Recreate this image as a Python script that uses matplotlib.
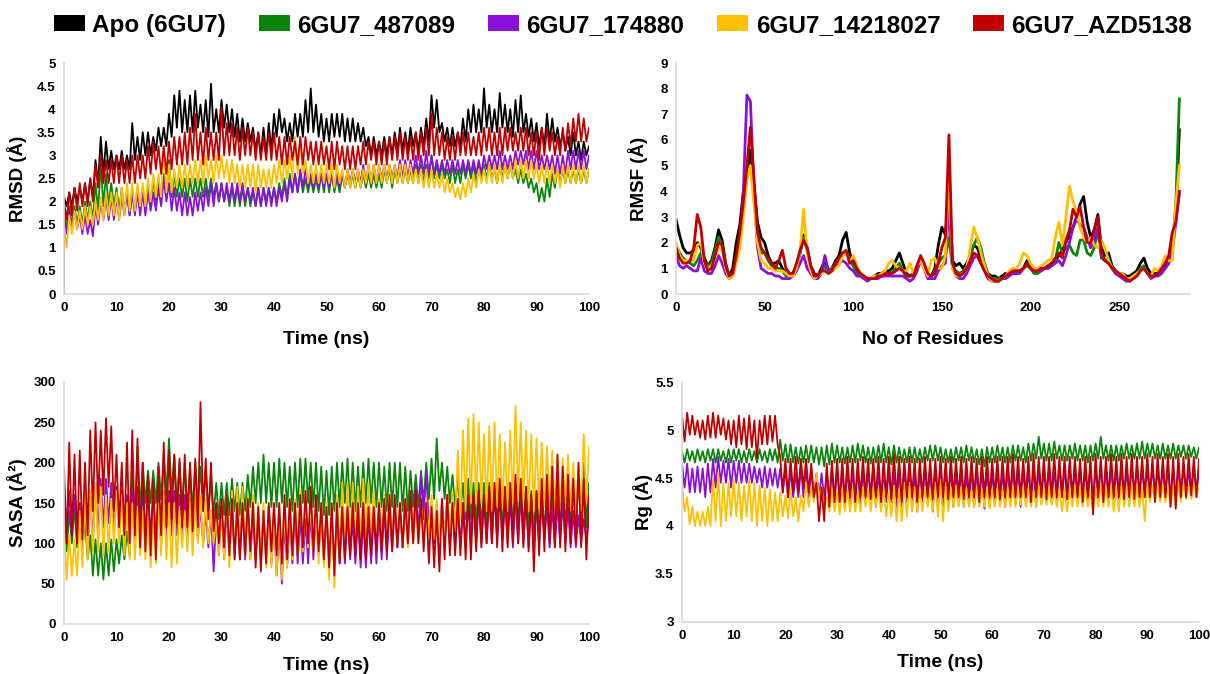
import numpy as np
import matplotlib
matplotlib.use("Agg")
import matplotlib.pyplot as plt
from matplotlib.patches import Patch
from matplotlib.ticker import FuncFormatter

plt.rcParams['font.family'] = ['Liberation Sans', 'DejaVu Sans']
plt.rcParams['font.weight'] = 'bold'

series_names = ["Apo (6GU7)", "6GU7_487089", "6GU7_174880", "6GU7_14218027", "6GU7_AZD5138"]
colors = ["#000000", "#0a850a", "#8a10d8", "#ffc000", "#c00000"]

# Time series are read off the picture as the upper / lower extent of the
# trace in every 1-ns window (0 ... 100 ns).

# ---------------- RMSD (A) ----------------
rmsd_apo_hi = [2.1, 2.2, 2.3, 2.3, 2.4, 2.5, 2.9, 3.4, 3.3, 3.1, 3.0, 3.1, 3.0, 3.7, 3.4, 3.5, 3.5, 3.4, 3.6, 3.6,
               3.9, 4.3, 4.4, 4.2, 4.3, 4.4, 4.1, 4.2, 4.55, 4.0, 4.2, 4.1, 4.0, 3.9, 3.8, 3.7, 3.6, 3.5, 3.6, 3.7,
               3.9, 4.0, 3.8, 3.7, 3.9, 3.9, 4.2, 4.45, 4.1, 3.9, 3.8, 3.9, 3.9, 3.9, 3.8, 3.8, 3.7, 3.6, 3.4, 3.4,
               3.3, 3.4, 3.4, 3.5, 3.6, 3.5, 3.6, 3.5, 3.6, 3.8, 4.3, 4.2, 3.7, 3.6, 3.6, 3.5, 3.8, 4.0, 4.1, 4.0,
               4.45, 4.1, 4.0, 4.35, 4.1, 4.0, 4.2, 4.3, 3.9, 3.8, 3.7, 3.6, 3.9, 3.8, 3.6, 3.5, 3.4, 3.5, 3.3, 3.3, 3.2]
rmsd_apo_lo = [1.9, 1.9, 2.0, 2.0, 2.0, 2.1, 2.4, 2.6, 2.7, 2.7, 2.7, 2.7, 2.7, 2.9, 2.9, 3.0, 3.0, 3.1, 3.2, 3.2,
               3.4, 3.6, 3.5, 3.5, 3.5, 3.6, 3.5, 3.4, 3.5, 3.5, 3.6, 3.5, 3.4, 3.3, 3.3, 3.3, 3.1, 3.0, 3.0, 3.1,
               3.4, 3.5, 3.3, 3.3, 3.4, 3.4, 3.5, 3.5, 3.4, 3.3, 3.3, 3.4, 3.4, 3.3, 3.3, 3.3, 3.3, 3.2, 3.0, 3.0,
               3.0, 3.0, 3.0, 3.1, 3.1, 3.1, 3.2, 3.1, 3.2, 3.3, 3.6, 3.5, 3.3, 3.2, 3.2, 3.2, 3.3, 3.5, 3.5, 3.5,
               3.6, 3.5, 3.5, 3.6, 3.5, 3.4, 3.5, 3.5, 3.4, 3.3, 3.2, 3.2, 3.3, 3.3, 3.2, 3.1, 3.0, 3.0, 2.9, 3.0, 3.0]
rmsd_487089_hi = [1.8, 1.9, 1.9, 1.9, 2.0, 2.0, 2.4, 2.8, 2.6, 2.4, 2.3, 2.3, 2.2, 2.2, 2.3, 2.3, 2.4, 2.5, 2.5, 2.6,
                  2.9, 2.6, 2.5, 2.5, 2.5, 2.5, 2.5, 2.5, 2.5, 2.4, 2.4, 2.3, 2.3, 2.3, 2.3, 2.3, 2.2, 2.3, 2.3, 2.3,
                  2.3, 2.4, 2.5, 2.6, 2.6, 2.6, 2.5, 2.5, 2.5, 2.6, 2.6, 2.6, 2.5, 2.6, 2.6, 2.6, 2.6, 2.6, 2.6, 2.6,
                  2.6, 2.7, 2.7, 2.7, 2.7, 2.7, 2.7, 2.8, 2.8, 2.8, 3.0, 2.8, 2.8, 2.7, 2.8, 2.7, 2.8, 2.8, 2.8, 2.8,
                  2.8, 2.8, 2.7, 2.8, 2.8, 2.8, 2.7, 2.7, 2.6, 2.5, 2.4, 2.3, 2.5, 2.6, 2.7, 2.7, 2.7, 2.7, 2.7, 2.7, 2.7]
rmsd_487089_lo = [1.4, 1.5, 1.5, 1.5, 1.6, 1.6, 1.8, 1.9, 1.9, 1.9, 1.8, 1.8, 1.7, 1.8, 1.8, 1.8, 1.9, 2.0, 2.0, 2.1,
                  2.1, 2.1, 2.1, 2.0, 2.1, 2.1, 2.1, 2.1, 2.1, 2.0, 2.0, 1.9, 1.9, 1.9, 1.9, 1.9, 1.9, 1.9, 2.0, 2.0,
                  2.0, 2.1, 2.1, 2.2, 2.2, 2.2, 2.2, 2.2, 2.2, 2.2, 2.2, 2.2, 2.2, 2.3, 2.3, 2.3, 2.3, 2.3, 2.3, 2.3,
                  2.3, 2.4, 2.3, 2.4, 2.4, 2.4, 2.4, 2.4, 2.4, 2.5, 2.5, 2.5, 2.5, 2.4, 2.4, 2.4, 2.5, 2.5, 2.4, 2.5,
                  2.5, 2.5, 2.4, 2.5, 2.5, 2.5, 2.4, 2.4, 2.3, 2.2, 2.0, 2.0, 2.1, 2.3, 2.4, 2.4, 2.4, 2.4, 2.4, 2.4, 2.5]
rmsd_174880_hi = [1.7, 1.8, 1.8, 1.7, 1.7, 1.6, 1.9, 2.0, 2.1, 2.1, 2.1, 2.1, 2.2, 2.2, 2.2, 2.2, 2.2, 2.2, 2.3, 2.5,
                  2.4, 2.3, 2.2, 2.2, 2.1, 2.2, 2.2, 2.3, 2.4, 2.4, 2.4, 2.4, 2.4, 2.4, 2.4, 2.3, 2.3, 2.3, 2.3, 2.3,
                  2.3, 2.3, 2.4, 2.5, 2.6, 2.7, 2.7, 2.6, 2.6, 2.6, 2.6, 2.6, 2.6, 2.6, 2.7, 2.7, 2.7, 2.8, 2.8, 2.8,
                  2.8, 2.8, 2.8, 2.8, 2.9, 2.9, 2.9, 3.0, 3.0, 3.1, 3.0, 2.9, 2.9, 2.9, 2.9, 2.9, 2.9, 2.9, 2.9, 2.9,
                  3.0, 3.0, 3.0, 3.1, 3.0, 3.0, 3.1, 3.1, 3.1, 3.1, 3.1, 3.0, 3.0, 3.0, 3.0, 3.0, 3.1, 3.1, 3.1, 3.1, 3.0]
rmsd_174880_lo = [1.3, 1.4, 1.4, 1.3, 1.3, 1.25, 1.5, 1.6, 1.6, 1.6, 1.6, 1.7, 1.7, 1.7, 1.7, 1.7, 1.8, 1.8, 1.9, 2.0,
                  1.8, 1.8, 1.7, 1.7, 1.7, 1.8, 1.8, 1.9, 1.9, 2.0, 2.0, 2.0, 2.0, 2.0, 2.0, 2.0, 1.9, 1.9, 1.9, 1.9,
                  1.9, 2.0, 2.0, 2.2, 2.2, 2.3, 2.3, 2.3, 2.3, 2.3, 2.3, 2.3, 2.3, 2.3, 2.4, 2.4, 2.4, 2.4, 2.4, 2.4,
                  2.5, 2.5, 2.5, 2.5, 2.5, 2.5, 2.6, 2.6, 2.6, 2.6, 2.6, 2.6, 2.6, 2.6, 2.6, 2.6, 2.6, 2.6, 2.6, 2.6,
                  2.7, 2.7, 2.7, 2.7, 2.7, 2.7, 2.8, 2.8, 2.7, 2.7, 2.7, 2.7, 2.7, 2.6, 2.6, 2.6, 2.7, 2.7, 2.7, 2.7, 2.7]
rmsd_14218027_hi = [1.5, 1.7, 1.8, 1.8, 1.9, 1.9, 2.0, 2.1, 2.2, 2.2, 2.2, 2.3, 2.4, 2.4, 2.4, 2.4, 2.5, 2.6, 2.6, 3.2,
                    2.8, 2.7, 2.8, 2.8, 2.8, 2.9, 2.9, 3.0, 2.9, 3.0, 3.0, 2.9, 2.9, 2.8, 2.8, 2.8, 2.8, 2.8, 2.7, 2.7,
                    2.8, 2.9, 2.9, 3.0, 3.4, 3.3, 2.9, 2.8, 2.8, 2.8, 2.8, 2.8, 2.8, 2.7, 2.7, 2.7, 2.7, 2.7, 2.8, 2.8,
                    2.8, 2.8, 2.8, 2.8, 2.8, 2.8, 2.8, 2.7, 2.7, 2.7, 2.7, 2.6, 2.6, 2.5, 2.4, 2.3, 2.4, 2.5, 2.6, 2.7,
                    2.7, 2.8, 2.8, 2.8, 2.8, 2.8, 2.9, 2.9, 2.9, 2.9, 2.8, 2.8, 2.8, 2.8, 2.7, 2.8, 2.8, 2.8, 2.8, 2.8, 2.7]
rmsd_14218027_lo = [1.0, 1.3, 1.4, 1.4, 1.5, 1.5, 1.6, 1.6, 1.7, 1.7, 1.6, 1.7, 1.8, 1.8, 1.9, 1.9, 2.0, 2.1, 2.1, 2.2,
                    2.2, 2.3, 2.3, 2.3, 2.4, 2.4, 2.4, 2.5, 2.4, 2.5, 2.5, 2.4, 2.4, 2.3, 2.3, 2.3, 2.2, 2.3, 2.3, 2.3,
                    2.4, 2.4, 2.5, 2.5, 2.6, 2.6, 2.4, 2.4, 2.4, 2.4, 2.4, 2.3, 2.4, 2.3, 2.3, 2.3, 2.3, 2.4, 2.4, 2.4,
                    2.4, 2.4, 2.4, 2.4, 2.4, 2.4, 2.4, 2.4, 2.3, 2.3, 2.3, 2.3, 2.2, 2.2, 2.1, 2.05, 2.1, 2.2, 2.3, 2.4,
                    2.4, 2.4, 2.4, 2.4, 2.5, 2.5, 2.5, 2.5, 2.5, 2.5, 2.4, 2.4, 2.4, 2.4, 2.3, 2.4, 2.4, 2.4, 2.4, 2.4, 2.5]
rmsd_azd5138_hi = [2.0, 2.2, 2.3, 2.4, 2.4, 2.5, 2.8, 3.0, 2.9, 2.9, 3.0, 3.0, 2.9, 3.0, 3.0, 3.0, 3.2, 3.3, 3.2, 3.2,
                   3.3, 3.4, 3.4, 3.5, 3.6, 3.9, 3.5, 3.6, 3.5, 3.5, 4.05, 3.7, 3.7, 3.6, 3.6, 3.6, 3.5, 3.5, 3.4, 3.5,
                   3.5, 3.4, 3.4, 3.4, 3.3, 3.4, 3.4, 3.3, 3.3, 3.3, 3.2, 3.3, 3.3, 3.2, 3.2, 3.2, 3.2, 3.3, 3.3, 3.3,
                   3.3, 3.3, 3.4, 3.4, 3.5, 3.4, 3.4, 3.5, 3.5, 3.6, 3.9, 3.6, 3.5, 3.4, 3.4, 3.5, 3.5, 3.5, 3.4, 3.5,
                   3.6, 3.6, 3.5, 3.6, 3.6, 3.6, 3.5, 3.6, 3.6, 3.5, 3.5, 3.6, 3.6, 3.5, 3.4, 3.6, 3.7, 3.8, 3.9, 3.8, 3.6]
rmsd_azd5138_lo = [1.6, 1.7, 1.8, 1.9, 1.9, 2.0, 2.3, 2.4, 2.4, 2.4, 2.4, 2.4, 2.4, 2.4, 2.5, 2.5, 2.6, 2.7, 2.6, 2.6,
                   2.7, 2.8, 2.8, 2.8, 2.9, 2.9, 2.8, 2.9, 2.9, 2.9, 3.0, 3.0, 3.0, 2.9, 3.0, 3.0, 2.9, 2.9, 2.9, 2.9,
                   2.9, 2.8, 2.8, 2.9, 2.8, 2.8, 2.9, 2.8, 2.8, 2.8, 2.7, 2.7, 2.8, 2.7, 2.7, 2.7, 2.8, 2.8, 2.9, 2.8,
                   2.8, 2.8, 2.9, 2.9, 2.9, 2.9, 2.9, 2.9, 3.0, 3.0, 3.0, 3.0, 2.9, 2.9, 2.9, 3.0, 3.0, 3.0, 3.0, 3.0,
                   3.1, 3.0, 3.0, 3.0, 3.1, 3.1, 3.1, 3.1, 3.0, 3.0, 2.9, 3.0, 3.1, 3.0, 3.0, 3.1, 3.2, 3.3, 3.3, 3.3, 3.3]
rmsd_start_value = 0.0  # first frame (only visible for the top-drawn series)

# ---------------- RMSF (A) vs residue, every 2nd residue from 0 ----------------
rmsf_apo = [2.9, 2.3, 1.8, 1.6, 1.6, 1.7, 2.0, 1.8, 1.4, 1.1, 1.3, 1.8, 2.5, 2.1, 1.2, 0.7, 1.0, 2.0, 2.7, 4.0,
            4.6, 5.6, 4.2, 2.8, 2.2, 2.0, 1.5, 1.2, 1.2, 1.3, 1.0, 0.8, 0.7, 0.8, 1.1, 1.6, 2.3, 1.8, 1.1, 0.8,
            0.7, 1.0, 1.3, 0.9, 1.0, 1.3, 1.5, 2.1, 2.4, 1.6, 1.2, 0.9, 0.8, 0.7, 0.6, 0.6, 0.7, 0.8, 0.8, 0.9,
            0.9, 1.0, 1.3, 1.6, 1.2, 0.8, 0.7, 0.8, 1.1, 1.4, 1.1, 0.7, 0.7, 1.0, 1.9, 2.6, 2.3, 4.0, 1.3, 1.1,
            1.2, 1.0, 1.2, 1.5, 1.9, 1.8, 1.4, 1.0, 0.8, 0.7, 0.7, 0.6, 0.7, 0.8, 0.8, 0.9, 0.9, 0.9, 1.0, 1.3,
            1.1, 1.0, 0.9, 1.0, 1.0, 1.1, 1.2, 1.3, 1.5, 1.7, 2.0, 2.3, 2.6, 3.0, 3.5, 3.8, 2.8, 2.2, 2.5, 3.1,
            1.8, 1.5, 1.6, 1.1, 0.9, 0.8, 0.8, 0.7, 0.7, 0.8, 0.9, 1.2, 1.4, 1.0, 0.8, 0.8, 0.8, 1.0, 1.1, 1.3,
            2.0, 3.0, 6.4]
rmsf_487089 = [1.9, 1.6, 1.4, 1.3, 1.2, 1.1, 1.3, 1.6, 1.3, 1.1, 1.2, 1.7, 2.2, 1.9, 1.1, 0.7, 0.8, 1.3, 2.0, 3.2,
               4.5, 5.0, 3.8, 2.4, 1.6, 1.6, 1.3, 1.1, 1.0, 1.0, 0.9, 0.7, 0.7, 0.8, 1.1, 1.6, 2.2, 1.7, 1.0, 0.7,
               0.7, 0.9, 1.1, 0.8, 1.0, 1.2, 1.3, 1.6, 1.6, 1.3, 1.1, 0.8, 0.7, 0.6, 0.6, 0.6, 0.7, 0.7, 0.7, 0.8,
               0.8, 0.9, 1.0, 1.2, 0.9, 0.7, 0.7, 0.8, 1.1, 1.4, 1.0, 0.7, 0.7, 0.9, 1.2, 1.4, 1.5, 2.2, 1.0, 0.9,
               0.8, 0.9, 1.1, 1.5, 1.9, 2.2, 1.8, 1.2, 0.8, 0.6, 0.6, 0.6, 0.6, 0.7, 0.8, 0.8, 0.8, 0.9, 1.0, 1.1,
               1.0, 0.8, 0.8, 0.9, 1.0, 1.0, 1.1, 1.3, 2.0, 1.6, 1.8, 1.9, 1.6, 1.5, 2.1, 2.1, 1.6, 1.5, 1.8, 2.5,
               1.4, 1.3, 1.4, 1.0, 0.8, 0.8, 0.7, 0.6, 0.6, 0.7, 0.8, 1.0, 1.1, 0.8, 0.7, 0.7, 0.8, 0.9, 1.0, 1.2,
               1.8, 3.5, 7.6]
rmsf_174880 = [1.5, 1.1, 1.0, 1.1, 1.0, 0.9, 0.9, 1.4, 0.9, 0.8, 0.8, 1.1, 1.5, 1.2, 0.8, 0.6, 0.7, 1.3, 2.0, 4.0,
               7.75, 7.5, 4.0, 1.8, 1.0, 0.9, 0.8, 0.8, 0.7, 0.7, 0.6, 0.6, 0.6, 0.7, 0.9, 1.2, 1.5, 1.0, 0.8, 0.6,
               0.6, 0.8, 1.5, 0.9, 0.9, 1.1, 1.2, 1.3, 1.2, 1.0, 0.9, 0.7, 0.7, 0.6, 0.5, 0.6, 0.6, 0.6, 0.7, 0.7,
               0.7, 0.7, 0.7, 0.7, 0.7, 0.6, 0.5, 0.6, 0.9, 1.3, 1.0, 0.6, 0.6, 0.6, 0.9, 1.1, 1.2, 3.5, 1.0, 0.7,
               0.6, 0.6, 0.8, 1.1, 1.4, 1.5, 1.2, 0.9, 0.6, 0.5, 0.5, 0.5, 0.6, 0.6, 0.7, 0.8, 0.8, 0.8, 1.0, 1.2,
               1.1, 0.9, 0.9, 0.9, 1.0, 1.0, 1.1, 1.2, 1.3, 1.1, 1.5, 2.0, 2.6, 2.9, 2.7, 2.6, 2.2, 1.8, 2.1, 2.6,
               1.5, 1.3, 1.2, 1.0, 0.8, 0.7, 0.6, 0.5, 0.5, 0.6, 0.7, 0.9, 1.0, 0.8, 0.6, 0.7, 0.7, 0.8, 1.0, 1.2,
               1.6, 2.8, 3.9]
rmsf_14218027 = [2.0, 1.5, 1.3, 1.3, 1.3, 1.3, 1.9, 2.0, 1.2, 1.0, 1.1, 1.4, 1.8, 1.7, 1.0, 0.6, 0.7, 1.2, 1.8, 3.0,
                 4.5, 5.0, 3.5, 2.0, 1.3, 1.2, 1.0, 1.0, 0.9, 0.9, 0.9, 0.8, 0.7, 0.7, 1.0, 1.7, 3.3, 1.6, 0.9, 0.6,
                 0.7, 0.8, 0.9, 0.8, 0.9, 1.0, 1.1, 1.5, 1.6, 1.2, 1.5, 1.1, 0.8, 0.7, 0.6, 0.6, 0.7, 0.7, 0.8, 0.9,
                 1.2, 1.3, 1.1, 1.0, 0.9, 0.9, 1.2, 0.8, 1.1, 1.3, 1.0, 0.7, 1.3, 1.4, 1.0, 1.0, 1.5, 4.8, 1.0, 0.7,
                 0.7, 0.8, 1.0, 1.8, 2.6, 2.2, 1.6, 1.1, 0.7, 0.5, 0.5, 0.5, 0.6, 0.7, 0.9, 1.0, 1.0, 1.2, 1.6, 1.5,
                 1.2, 1.0, 1.0, 1.1, 1.2, 1.3, 1.4, 2.2, 2.8, 1.9, 3.0, 4.2, 3.6, 3.2, 2.6, 2.2, 2.0, 2.2, 1.9, 1.8,
                 2.1, 1.8, 1.3, 1.0, 0.9, 0.8, 0.8, 0.6, 0.6, 0.7, 0.8, 0.9, 1.0, 0.8, 0.7, 1.0, 0.9, 1.1, 1.5, 1.3,
                 1.3, 3.5, 5.0]
rmsf_azd5138 = [1.8, 1.4, 1.2, 1.2, 1.3, 1.8, 3.1, 2.6, 1.3, 0.9, 1.0, 1.5, 2.0, 1.9, 1.1, 0.7, 0.8, 1.5, 2.4, 3.6,
                5.0, 6.5, 4.5, 2.4, 1.8, 1.6, 1.4, 1.2, 1.0, 1.3, 1.7, 1.0, 0.8, 0.8, 1.2, 1.7, 2.1, 1.8, 1.1, 0.7,
                0.7, 0.9, 0.9, 0.8, 0.9, 1.2, 1.4, 1.6, 1.7, 1.2, 1.3, 1.0, 0.8, 0.7, 0.6, 0.6, 0.6, 0.7, 0.7, 0.8,
                0.8, 0.8, 0.9, 1.0, 0.9, 0.7, 0.7, 0.7, 1.1, 1.5, 1.2, 0.8, 0.7, 0.8, 1.2, 1.8, 2.2, 6.2, 1.2, 0.8,
                0.7, 0.8, 1.0, 1.3, 1.6, 1.5, 1.2, 0.9, 0.7, 0.6, 0.5, 0.5, 0.6, 0.7, 0.8, 0.9, 0.9, 0.9, 1.0, 1.2,
                1.0, 0.9, 0.9, 1.0, 1.0, 1.1, 1.2, 1.4, 1.6, 1.4, 2.1, 2.5, 3.3, 3.0, 3.4, 2.6, 2.0, 2.0, 2.5, 3.0,
                1.6, 1.3, 1.2, 1.0, 0.9, 0.8, 0.7, 0.6, 0.5, 0.6, 0.7, 0.9, 1.0, 0.8, 0.7, 0.7, 0.8, 1.0, 1.2, 1.5,
                2.4, 2.8, 4.0]
rmsf_residue_step = 2

# ---------------- SASA (A^2) ----------------
sasa_487089_hi = [150, 140, 145, 140, 130, 110, 105, 100, 100, 105, 105, 110, 115, 190, 220, 200, 190, 190, 200, 210,
                  230, 210, 200, 200, 195, 200, 195, 190, 180, 175, 175, 175, 180, 175, 175, 185, 195, 200, 210, 200,
                  200, 205, 200, 195, 200, 205, 205, 200, 200, 195, 190, 195, 200, 200, 205, 200, 195, 200, 205, 200,
                  200, 195, 200, 200, 200, 195, 190, 185, 190, 200, 205, 230, 200, 195, 185, 180, 175, 180, 175, 175,
                  175, 175, 170, 170, 170, 175, 175, 175, 170, 165, 165, 165, 165, 165, 170, 175, 175, 180, 185, 200, 175]
sasa_487089_lo = [90, 100, 95, 90, 80, 60, 60, 55, 60, 65, 75, 80, 85, 120, 140, 150, 150, 150, 155, 160,
                  160, 150, 145, 140, 140, 145, 140, 140, 135, 130, 135, 135, 140, 135, 140, 145, 150, 150, 150, 145,
                  145, 150, 145, 140, 145, 150, 150, 145, 140, 135, 135, 140, 145, 150, 145, 140, 145, 150, 150, 145,
                  145, 140, 145, 145, 140, 140, 145, 145, 150, 155, 155, 165, 155, 150, 145, 140, 130, 130, 125, 120,
                  120, 125, 125, 120, 120, 120, 125, 120, 120, 115, 115, 115, 115, 115, 115, 120, 120, 115, 115, 120, 120]
sasa_174880_hi = [170, 165, 160, 150, 150, 160, 175, 180, 180, 175, 170, 165, 160, 165, 170, 170, 165, 160, 160, 155,
                  165, 165, 160, 160, 155, 150, 145, 140, 140, 135, 145, 145, 140, 145, 145, 150, 140, 135, 140, 145,
                  130, 120, 125, 135, 140, 135, 130, 140, 140, 135, 135, 130, 135, 140, 140, 130, 130, 130, 135, 140,
                  140, 145, 150, 145, 145, 155, 160, 170, 185, 190, 150, 150, 155, 160, 160, 150, 150, 160, 160, 155,
                  155, 160, 165, 160, 155, 155, 160, 160, 155, 150, 150, 150, 145, 145, 150, 150, 145, 140, 135, 130, 130]
sasa_174880_lo = [110, 110, 100, 95, 90, 100, 110, 120, 125, 115, 110, 105, 100, 105, 110, 110, 110, 105, 100, 105,
                  110, 110, 110, 110, 110, 105, 100, 95, 65, 85, 80, 85, 85, 80, 80, 80, 80, 80, 80, 75,
                  60, 50, 70, 75, 75, 75, 75, 80, 85, 80, 75, 75, 75, 75, 80, 75, 70, 70, 75, 75,
                  80, 80, 90, 95, 95, 100, 105, 110, 130, 120, 100, 95, 100, 95, 95, 95, 100, 105, 100, 100,
                  100, 100, 105, 105, 100, 95, 100, 100, 95, 95, 100, 105, 95, 95, 100, 100, 95, 95, 100, 105, 110]
sasa_14218027_hi = [120, 110, 105, 140, 160, 165, 175, 170, 160, 155, 165, 160, 150, 150, 145, 140, 130, 135, 150, 165,
                    150, 150, 145, 140, 155, 160, 160, 155, 140, 130, 150, 160, 165, 170, 170, 160, 160, 150, 150, 145,
                    140, 140, 145, 150, 155, 165, 165, 150, 140, 150, 150, 145, 160, 175, 175, 175, 170, 180, 175, 165,
                    155, 160, 160, 155, 150, 155, 155, 150, 150, 155, 160, 155, 150, 160, 165, 215, 240, 255, 260, 250,
                    235, 245, 250, 235, 225, 240, 270, 250, 240, 235, 230, 225, 220, 215, 210, 205, 210, 200, 195, 235, 220]
sasa_14218027_lo = [55, 60, 60, 70, 80, 90, 90, 85, 90, 100, 100, 85, 80, 80, 85, 80, 70, 75, 85, 80,
                    70, 75, 95, 90, 85, 100, 95, 100, 100, 85, 80, 70, 80, 85, 85, 80, 80, 75, 70, 70,
                    60, 55, 70, 80, 85, 90, 95, 90, 75, 70, 55, 45, 80, 95, 100, 95, 100, 110, 105, 100,
                    105, 110, 105, 100, 95, 95, 100, 100, 105, 110, 105, 100, 105, 110, 115, 130, 140, 150, 150, 150,
                    140, 140, 145, 145, 140, 150, 155, 150, 140, 140, 145, 145, 140, 135, 140, 145, 140, 135, 140, 150, 145]
sasa_azd5138_hi = [195, 225, 210, 215, 200, 240, 250, 240, 255, 245, 210, 200, 225, 240, 230, 200, 185, 180, 195, 225,
                   215, 210, 205, 210, 200, 205, 275, 205, 200, 150, 155, 160, 155, 150, 150, 155, 150, 145, 140, 150,
                   150, 150, 160, 155, 150, 160, 165, 170, 160, 150, 145, 150, 150, 145, 145, 150, 150, 150, 145, 145,
                   150, 155, 160, 160, 150, 155, 165, 165, 155, 150, 145, 140, 155, 160, 150, 155, 150, 160, 160, 165,
                   160, 170, 175, 180, 170, 175, 185, 180, 170, 160, 165, 180, 185, 195, 210, 195, 185, 180, 200, 180, 160]
sasa_azd5138_lo = [100, 110, 100, 105, 110, 140, 150, 160, 170, 140, 120, 110, 100, 110, 95, 90, 85, 80, 110, 120,
                   130, 125, 120, 120, 115, 120, 140, 130, 115, 100, 95, 85, 80, 80, 85, 90, 70, 65, 75, 90,
                   85, 75, 80, 85, 85, 95, 100, 90, 90, 80, 70, 60, 75, 80, 85, 85, 80, 80, 85, 90,
                   90, 90, 90, 95, 95, 100, 100, 100, 90, 75, 70, 65, 80, 85, 85, 85, 80, 80, 90, 95,
                   100, 100, 95, 90, 95, 100, 100, 95, 90, 65, 85, 90, 100, 95, 95, 90, 100, 100, 95, 80, 100]

# ---------------- Rg (A) ----------------
rg_487089_hi = [4.78, 4.8, 4.78, 4.8, 4.78, 4.8, 4.8, 4.8, 4.78, 4.8, 4.8, 4.8, 4.78, 4.8, 4.78, 4.8, 4.78, 4.8, 4.8, 4.9,
                4.85, 4.85, 4.82, 4.82, 4.84, 4.84, 4.82, 4.82, 4.84, 4.86, 4.84, 4.82, 4.82, 4.84, 4.86, 4.84, 4.82, 4.82, 4.84, 4.86,
                4.82, 4.84, 4.82, 4.8, 4.82, 4.82, 4.8, 4.82, 4.84, 4.84, 4.82, 4.8, 4.8, 4.82, 4.82, 4.84, 4.82, 4.8, 4.8, 4.82,
                4.82, 4.84, 4.82, 4.82, 4.84, 4.84, 4.82, 4.86, 4.86, 4.93, 4.86, 4.86, 4.88, 4.84, 4.84, 4.84, 4.86, 4.84, 4.84, 4.84,
                4.86, 4.93, 4.84, 4.84, 4.84, 4.84, 4.86, 4.84, 4.86, 4.88, 4.86, 4.86, 4.84, 4.86, 4.84, 4.86, 4.84, 4.84, 4.84, 4.82, 4.82]
rg_487089_lo = [4.66, 4.68, 4.66, 4.68, 4.66, 4.68, 4.66, 4.68, 4.66, 4.66, 4.68, 4.66, 4.66, 4.68, 4.66, 4.68, 4.66, 4.68, 4.66, 4.68,
                4.66, 4.66, 4.65, 4.66, 4.66, 4.66, 4.64, 4.62, 4.64, 4.66, 4.66, 4.65, 4.66, 4.66, 4.68, 4.66, 4.65, 4.66, 4.66, 4.66,
                4.64, 4.66, 4.66, 4.66, 4.66, 4.66, 4.66, 4.68, 4.68, 4.68, 4.66, 4.66, 4.66, 4.68, 4.66, 4.68, 4.66, 4.64, 4.62, 4.66,
                4.66, 4.68, 4.66, 4.66, 4.68, 4.68, 4.66, 4.68, 4.7, 4.7, 4.68, 4.68, 4.7, 4.68, 4.68, 4.7, 4.68, 4.68, 4.66, 4.68,
                4.7, 4.7, 4.68, 4.68, 4.68, 4.7, 4.7, 4.7, 4.7, 4.7, 4.72, 4.7, 4.7, 4.7, 4.7, 4.7, 4.72, 4.7, 4.72, 4.7, 4.72]
rg_174880_hi = [4.65, 4.65, 4.6, 4.62, 4.6, 4.65, 4.7, 4.72, 4.68, 4.7, 4.68, 4.68, 4.65, 4.65, 4.62, 4.6, 4.62, 4.6, 4.6, 4.6,
                4.6, 4.58, 4.55, 4.6, 4.6, 4.58, 4.55, 4.55, 4.58, 4.6, 4.6, 4.58, 4.6, 4.58, 4.6, 4.58, 4.58, 4.6, 4.58, 4.6,
                4.58, 4.56, 4.6, 4.58, 4.6, 4.58, 4.6, 4.58, 4.6, 4.56, 4.6, 4.58, 4.6, 4.58, 4.58, 4.56, 4.6, 4.58, 4.6, 4.6,
                4.58, 4.6, 4.58, 4.6, 4.6, 4.6, 4.6, 4.6, 4.62, 4.62, 4.6, 4.6, 4.6, 4.62, 4.6, 4.62, 4.6, 4.62, 4.6, 4.62,
                4.6, 4.62, 4.6, 4.62, 4.6, 4.62, 4.6, 4.62, 4.62, 4.62, 4.6, 4.62, 4.6, 4.62, 4.62, 4.6, 4.6, 4.62, 4.6, 4.62, 4.6]
rg_174880_lo = [4.4, 4.35, 4.35, 4.35, 4.3, 4.35, 4.4, 4.45, 4.45, 4.4, 4.45, 4.45, 4.45, 4.45, 4.45, 4.4, 4.4, 4.42, 4.4, 4.35,
                4.3, 4.3, 4.3, 4.3, 4.3, 4.3, 4.3, 4.28, 4.25, 4.25, 4.25, 4.2, 4.25, 4.25, 4.2, 4.25, 4.3, 4.2, 4.2, 4.25,
                4.25, 4.15, 4.2, 4.25, 4.2, 4.15, 4.25, 4.25, 4.15, 4.25, 4.2, 4.25, 4.2, 4.25, 4.2, 4.22, 4.2, 4.25, 4.18, 4.2,
                4.22, 4.25, 4.2, 4.25, 4.25, 4.2, 4.25, 4.22, 4.2, 4.25, 4.28, 4.25, 4.25, 4.3, 4.28, 4.28, 4.25, 4.28, 4.25, 4.28,
                4.28, 4.3, 4.25, 4.28, 4.28, 4.22, 4.28, 4.3, 4.3, 4.3, 4.3, 4.3, 4.28, 4.3, 4.28, 4.3, 4.3, 4.32, 4.3, 4.35, 4.35]
rg_14218027_hi = [4.45, 4.3, 4.2, 4.15, 4.15, 4.2, 4.5, 4.55, 4.45, 4.45, 4.48, 4.45, 4.42, 4.5, 4.45, 4.42, 4.4, 4.38, 4.35, 4.35,
                  4.32, 4.38, 4.3, 4.32, 4.45, 4.4, 4.55, 4.4, 4.3, 4.38, 4.35, 4.4, 4.38, 4.4, 4.35, 4.4, 4.38, 4.4, 4.38, 4.4,
                  4.35, 4.42, 4.38, 4.45, 4.45, 4.4, 4.38, 4.4, 4.38, 4.45, 4.48, 4.45, 4.4, 4.42, 4.4, 4.4, 4.38, 4.4, 4.38, 4.4,
                  4.38, 4.4, 4.38, 4.4, 4.42, 4.4, 4.42, 4.4, 4.38, 4.42, 4.4, 4.4, 4.38, 4.4, 4.38, 4.4, 4.42, 4.4, 4.4, 4.38,
                  4.4, 4.42, 4.4, 4.42, 4.4, 4.45, 4.42, 4.45, 4.42, 4.4, 4.45, 4.42, 4.45, 4.42, 4.4, 4.42, 4.45, 4.45, 4.42, 4.45, 4.4]
rg_14218027_lo = [4.15, 4.02, 4.0, 4.0, 4.0, 4.0, 4.05, 4.0, 4.05, 4.1, 4.1, 4.05, 4.1, 4.05, 4.0, 4.05, 4.0, 4.05, 4.05, 4.1,
                  4.08, 4.1, 4.05, 4.15, 4.2, 4.25, 4.3, 4.2, 4.15, 4.15, 4.12, 4.15, 4.15, 4.15, 4.15, 4.2, 4.15, 4.2, 4.15, 4.1,
                  4.1, 4.05, 4.05, 4.1, 4.15, 4.15, 4.15, 4.2, 4.15, 4.1, 4.05, 4.15, 4.2, 4.2, 4.2, 4.2, 4.2, 4.2, 4.2, 4.18,
                  4.2, 4.2, 4.2, 4.2, 4.2, 4.22, 4.2, 4.2, 4.2, 4.22, 4.22, 4.22, 4.2, 4.15, 4.15, 4.2, 4.2, 4.2, 4.2, 4.15,
                  4.2, 4.2, 4.2, 4.15, 4.15, 4.2, 4.2, 4.2, 4.2, 4.05, 4.25, 4.25, 4.25, 4.25, 4.2, 4.2, 4.25, 4.28, 4.28, 4.3, 4.3]
rg_azd5138_hi = [5.15, 5.18, 5.15, 5.1, 5.1, 5.15, 5.18, 5.15, 5.12, 5.1, 5.1, 5.15, 5.12, 5.15, 5.1, 5.1, 5.15, 5.15, 5.15, 4.72,
                 4.7, 4.7, 4.72, 4.7, 4.7, 4.65, 4.45, 4.4, 4.65, 4.68, 4.7, 4.7, 4.72, 4.7, 4.7, 4.72, 4.7, 4.7, 4.72, 4.7,
                 4.72, 4.75, 4.72, 4.7, 4.72, 4.7, 4.7, 4.72, 4.7, 4.7, 4.72, 4.7, 4.72, 4.7, 4.72, 4.7, 4.72, 4.7, 4.72, 4.72,
                 4.7, 4.72, 4.72, 4.72, 4.75, 4.72, 4.7, 4.72, 4.75, 4.72, 4.72, 4.72, 4.75, 4.72, 4.72, 4.72, 4.72, 4.7, 4.72, 4.72,
                 4.75, 4.72, 4.72, 4.75, 4.72, 4.75, 4.72, 4.75, 4.72, 4.72, 4.75, 4.72, 4.75, 4.72, 4.75, 4.72, 4.75, 4.72, 4.75, 4.72, 4.7]
rg_azd5138_lo = [4.88, 4.95, 4.95, 4.92, 4.9, 4.92, 4.92, 4.95, 4.9, 4.85, 4.82, 4.85, 4.8, 4.82, 4.7, 4.85, 4.85, 4.88, 4.85, 4.35,
                 4.3, 4.35, 4.35, 4.4, 4.35, 4.3, 4.05, 4.05, 4.2, 4.25, 4.25, 4.25, 4.3, 4.25, 4.3, 4.3, 4.28, 4.3, 4.25, 4.3,
                 4.28, 4.3, 4.25, 4.3, 4.3, 4.25, 4.3, 4.3, 4.28, 4.3, 4.3, 4.28, 4.3, 4.3, 4.28, 4.3, 4.3, 4.25, 4.3, 4.3,
                 4.3, 4.28, 4.3, 4.3, 4.3, 4.3, 4.3, 4.25, 4.3, 4.3, 4.28, 4.3, 4.3, 4.3, 4.28, 4.3, 4.3, 4.25, 4.3, 4.12,
                 4.3, 4.25, 4.3, 4.3, 4.3, 4.28, 4.3, 4.28, 4.3, 4.3, 4.3, 4.25, 4.3, 4.3, 4.2, 4.18, 4.3, 4.3, 4.32, 4.3, 4.35]

time_span = (0, 100)

W, H = 1210, 674
fig = plt.figure(figsize=(W / 100, H / 100), dpi=100)


def px_axes(left, right, top, bottom):
    return fig.add_axes([left / W, 1 - bottom / H, (right - left) / W, (bottom - top) / H])


def style(ax, xlabel, ylabel, ylab_x, xlab_y):
    for s in ("top", "right"):
        ax.spines[s].set_visible(False)
    for s in ("left", "bottom"):
        ax.spines[s].set_color("#d9d9d9")
        ax.spines[s].set_linewidth(1.2)
    ax.tick_params(length=0, labelsize=9.5, pad=6)
    for lab in ax.get_xticklabels() + ax.get_yticklabels():
        lab.set_fontweight("bold")
    ax.set_xlabel(xlabel, fontsize=14, fontweight="bold")
    ax.set_ylabel(ylabel, fontsize=13.5, fontweight="bold")
    ax.yaxis.set_label_coords(ylab_x, 0.5)
    ax.xaxis.set_label_coords(0.5, xlab_y)
    ax.yaxis.set_major_formatter(FuncFormatter(lambda v, p: f"{v:g}"))


def trace(hi, lo):
    """Upper and lower reading of each 1-ns window, visited in turn."""
    n = len(hi)
    step = (time_span[1] - time_span[0]) / (n - 1)
    t = time_span[0] + np.arange(n) * step
    x = np.empty(2 * n)
    y = np.empty(2 * n)
    x[0::2], x[1::2] = t, t + step / 2
    y[0::2], y[1::2] = hi, lo
    return x, y


lw_ts = 1.3

# RMSD
ax1 = px_axes(64, 589, 63, 294)
rmsd_sets = [(rmsd_apo_hi, rmsd_apo_lo), (rmsd_487089_hi, rmsd_487089_lo), (rmsd_174880_hi, rmsd_174880_lo),
             (rmsd_14218027_hi, rmsd_14218027_lo), (rmsd_azd5138_hi, rmsd_azd5138_lo)]
for (hi, lo), c in zip(rmsd_sets, colors):
    x, y = trace(hi, lo)
    ax1.plot(np.concatenate([[time_span[0]], x]), np.concatenate([[rmsd_start_value], y]), color=c, lw=lw_ts)
ax1.set_xlim(0, 100)
ax1.set_ylim(0, 5)
ax1.set_xticks(np.arange(0, 101, 10))
ax1.set_yticks(np.arange(0, 5.01, 0.5))
style(ax1, "Time (ns)", "RMSD (Å)", -0.07, -0.16)

# RMSF
ax2 = px_axes(676, 1190, 63, 294)
for vals, c in zip([rmsf_apo, rmsf_487089, rmsf_174880, rmsf_14218027, rmsf_azd5138], colors):
    res = np.arange(len(vals)) * rmsf_residue_step
    ax2.plot(res, vals, color=c, lw=2.0)
ax2.set_xlim(0, 290)
ax2.set_ylim(0, 9)
ax2.set_xticks(np.arange(0, 251, 50))
ax2.set_yticks(np.arange(0, 10, 1))
style(ax2, "No of Residues", "RMSF (Å)", -0.054, -0.16)

# SASA
ax3 = px_axes(64, 589, 382, 624)
sasa_sets = [(sasa_487089_hi, sasa_487089_lo), (sasa_174880_hi, sasa_174880_lo),
             (sasa_14218027_hi, sasa_14218027_lo), (sasa_azd5138_hi, sasa_azd5138_lo)]
for (hi, lo), c in zip(sasa_sets, colors[1:]):
    ax3.plot(*trace(hi, lo), color=c, lw=lw_ts)
ax3.set_xlim(0, 100)
ax3.set_ylim(0, 300)
ax3.set_xticks(np.arange(0, 101, 10))
ax3.set_yticks(np.arange(0, 301, 50))
style(ax3, "Time (ns)", "SASA (Å²)", -0.07, -0.135)

# Rg
ax4 = px_axes(682, 1199, 382, 622)
rg_sets = [(rg_487089_hi, rg_487089_lo), (rg_174880_hi, rg_174880_lo),
           (rg_14218027_hi, rg_14218027_lo), (rg_azd5138_hi, rg_azd5138_lo)]
for (hi, lo), c in zip(rg_sets, colors[1:]):
    ax4.plot(*trace(hi, lo), color=c, lw=lw_ts)
ax4.set_xlim(0, 100)
ax4.set_ylim(3, 5.5)
ax4.set_xticks(np.arange(0, 101, 10))
ax4.set_yticks(np.arange(3, 5.51, 0.5))
style(ax4, "Time (ns)", "Rg (Å)", -0.056, -0.135)

handles = [Patch(facecolor=c, edgecolor="none", label=n) for n, c in zip(series_names, colors)]
fig.legend(handles=handles, loc="upper center", bbox_to_anchor=(0.515, 1.012), ncol=5, frameon=False,
           prop={"weight": "bold", "size": 17.5}, handlelength=1.28, handleheight=0.62,
           handletextpad=0.3, columnspacing=1.35)

fig.savefig("out.png", dpi=100)
